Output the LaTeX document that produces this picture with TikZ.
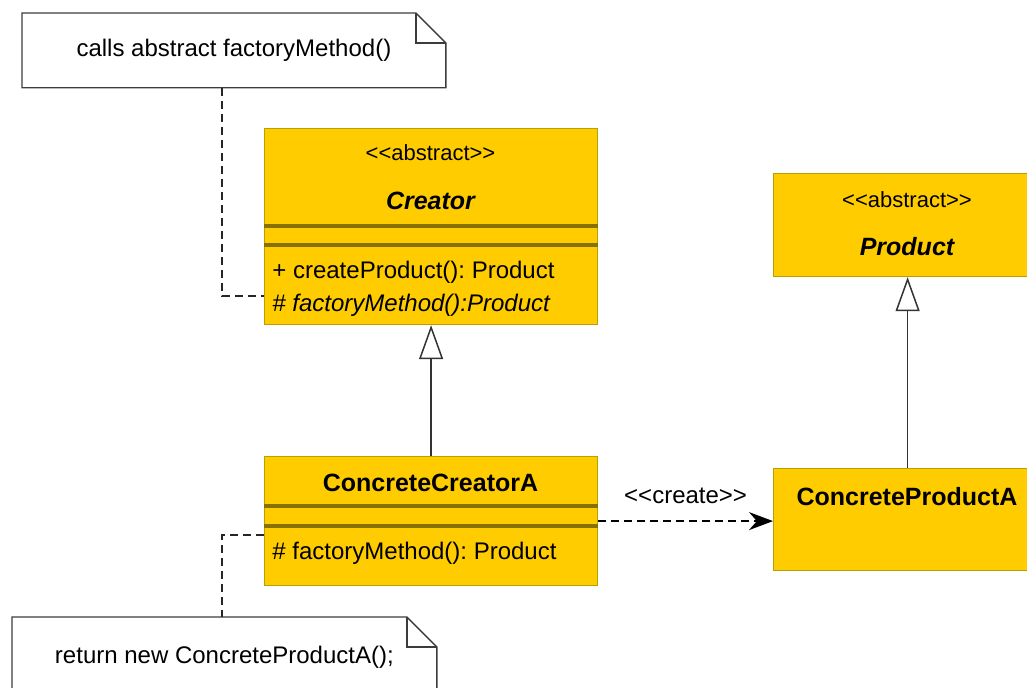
\documentclass[tikz,border=0pt]{standalone}
\usepackage{fontspec}
\setmainfont{Liberation Sans}
\usetikzlibrary{arrows.meta,calc,positioning}
\definecolor{classgold}{HTML}{FFCC00}
\definecolor{classedge}{HTML}{B8A000}
\definecolor{sepolive}{HTML}{857000}
\definecolor{noteedge}{HTML}{3C3C3C}
\newcommand{\umlstereo}[1]{<\kern0pt<#1>\kern0pt>}
\frenchspacing

\begin{document}
\begin{tikzpicture}[x=0.5pt, y=-0.5pt,
  font=\fontsize{12}{14}\selectfont,
  classbox/.style={draw=classedge, fill=classgold, line width=0.6pt,
    anchor=north west, inner sep=0pt},
  stereo/.style={font=\fontsize{11}{13}\selectfont, inner sep=0pt},
  classname/.style={font=\fontsize{12.5}{15}\selectfont\bfseries, inner sep=0pt},
  member/.style={anchor=west, inner sep=0pt},
  divider/.style={draw=sepolive, line width=1.6pt},
  notebox/.style={anchor=north west, inner sep=0pt, fill=white, align=center},
  noteline/.style={draw=noteedge, line width=0.7pt, line join=miter},
  noteflow/.style={draw=black!85, line width=0.75pt, dash pattern=on 4pt off 2.5pt},
  inherit/.style={-{Triangle[open, length=17pt, width=12pt]}, draw=black!80,
    line width=0.75pt},
  depflow/.style={-{Stealth[length=12pt, width=9pt]}, draw=black,
    line width=0.75pt, dash pattern=on 4pt off 2.5pt},
]
  \useasboundingbox (0,0) rectangle (1027,688);
  \clip (0,0) rectangle (1027,688);
  \fill[white] (0,0) rectangle (1027,688);

  \node[classbox, minimum width=166.5pt, minimum height=98pt] (creator)
    at (264,128) {};
  \node[stereo] (creator-stereo) at (430.5,153) {\umlstereo{abstract}};
  \node[classname, font=\fontsize{12.5}{15}\selectfont\bfseries\itshape]
    (creator-name) at (430.5,201) {Creator};
  \draw[divider] (creator.west |- 0,226) -- (creator.east |- 0,226);
  \draw[divider] (creator.west |- 0,245) -- (creator.east |- 0,245);
  \node[member] (creator-op1) at (272,272) {+ createProduct(): Product};
  \node[member] (creator-op2) at (272,305) {\itshape\# factoryMethod():Product};

  \node[classbox, minimum width=134pt, minimum height=51.5pt] (product)
    at (773,173) {};
  \node[stereo] (product-stereo) at (907,200) {\umlstereo{abstract}};
  \node[classname, font=\fontsize{12.5}{15}\selectfont\bfseries\itshape]
    (product-name) at (907,247) {Product};

  \node[classbox, minimum width=166.5pt, minimum height=64.5pt]
    (concrete-creator) at (264,456) {};
  \node[classname] (concrete-creator-name) at (430.5,483) {ConcreteCreatorA};
  \draw[divider] (concrete-creator.west |- 0,506) -- (concrete-creator.east |- 0,506);
  \draw[divider] (concrete-creator.west |- 0,526) -- (concrete-creator.east |- 0,526);
  \node[member] (concrete-creator-op) at (272,553) {\# factoryMethod(): Product};

  \node[classbox, minimum width=134pt, minimum height=51pt]
    (concrete-product) at (773,468) {};
  \node[classname] (concrete-product-name) at (907,497) {ConcreteProductA};

  \node[notebox, minimum width=211.5pt, minimum height=37pt] (call-note)
    at (22,13) {calls abstract factoryMethod()};
  \draw[noteline] (call-note.south west) -- (call-note.north west)
    -- ([xshift=-15pt]call-note.north east) -- ([yshift=-15pt]call-note.north east)
    -- (call-note.south east) -- cycle;
  \draw[noteline] ([xshift=-15pt]call-note.north east)
    |- ([yshift=-15pt]call-note.north east);

  \node[notebox, minimum width=212pt, minimum height=40pt] (return-note)
    at (12,617) {return new ConcreteProductA();};
  \draw[noteline] (return-note.south west) -- (return-note.north west)
    -- ([xshift=-15pt]return-note.north east) -- ([yshift=-15pt]return-note.north east)
    -- (return-note.south east) -- cycle;
  \draw[noteline] ([xshift=-15pt]return-note.north east)
    |- ([yshift=-15pt]return-note.north east);

  \coordinate (call-bend) at (222,296);
  \draw[noteflow] (call-note.south -| call-bend) -- (call-bend)
    -- (call-bend -| creator.west);
  \coordinate (return-bend) at (222,535);
  \draw[noteflow] (return-bend -| concrete-creator.west) -- (return-bend)
    -- (return-note.north -| return-bend);

  \draw[inherit] (concrete-creator.north) -- (creator.south);
  \draw[inherit] (concrete-product.north) -- (product.south);
  \draw[depflow] (concrete-creator.east)
    -- (concrete-creator.east -| concrete-product.west)
    node[midway, above=5pt] (create-label) {\umlstereo{create}};
\end{tikzpicture}
\end{document}
